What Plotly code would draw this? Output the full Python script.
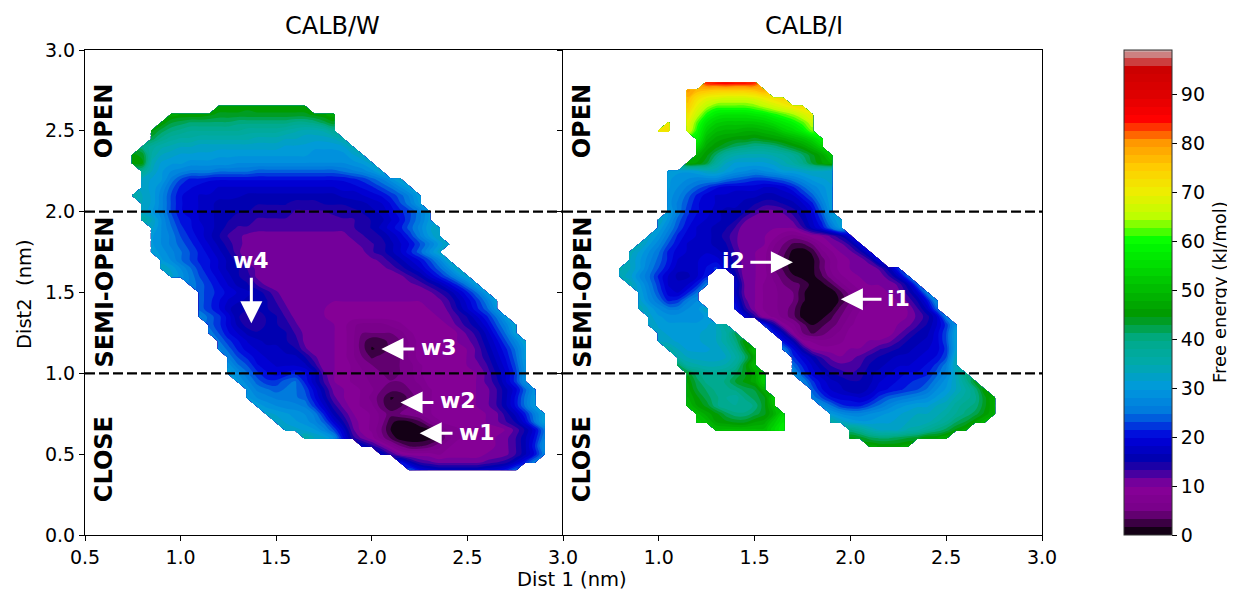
import plotly.graph_objects as go

_ = None
X = [round(0.70 + 0.05*i, 2) for i in range(47)]
Y = [round(0.40 + 0.05*i, 2) for i in range(49)]

# free energy per row, from y=0.40 upward: (x of first cell, values at 0.05 nm spacing)
ROWS_W = [
(2.2,[24,20,18,17,17,17,17,17,18,19,21,25]),
(2.15,[20,16,13,12,11,11,11,11,11,12,13,14,17,21,26]),
(2.05,[17,13,10,9,9,9,8,9,9,9,9,10,10,11,13,16,20,26]),
(1.95,[17,14,11,8,5,3,3,4,6,8,9,9,9,9,10,11,13,16,21,28]),
(1.65,[36,33,32,28,20,14,11,9,6,3,0.5,0.5,0.5,1,3,6,8,9,9,9,10,11,13,16,20,26]),
(1.55,[33,32,31,30,27,23,18,12,9,8,5,1.5,0.5,0.5,0.5,1.5,4,7,8,9,9,9,9,10,12,15,19,25]),
(1.5,[33,31,30,29,27,24,19,15,11,9,8,6,2,1,1.5,3,6,8,9,9,9,9,10,11,13,15,19,25,31]),
(1.45,[32,31,30,29,28,26,21,16,13,10,9,8,6,4,5,6,7,8,9,9,9,9,9,10,11,14,17,21,26,31]),
(1.4,[31,29,28,27,27,26,22,18,14,11,9,8,7,4,2,3,5,7,8,9,9,9,9,10,11,13,16,20,25,30]),
(1.35,[30,28,27,26,26,25,24,20,16,12,10,9,8,6,4,1.5,2,4,6,8,9,9,9,9,10,11,13,16,20,25,30]),
(1.35,[29,26,25,24,25,25,23,19,15,11,10,9,8,7,5,4,4,5,6,8,9,9,9,9,10,11,13,16,19,24,29]),
(1.3,[30,27,24,22,22,24,25,21,17,13,10,9,8,8,6,5,5,5,6,7,9,9,9,9,9,10,12,14,18,22,28]),
(1.25,[31,28,25,22,20,19,20,21,20,17,12,10,9,8,7,5.5,5,4.5,5,6,8,9,9,9,9,9,10,12,15,18,22,28]),
(1.25,[29,25,23,20,19,18,18,18,17,14,10,10,9,8,6,5,4.5,4.5,5,6,8,9,9,9,9,10,11,13,16,19,23,29]),
(1.25,[26,23,21,19,18,17,17,17,15,12,10,10,9,7,5,3,4,4,5,7,9,9,9,9,9,10,12,14,17,20,24,30]),
(1.2,[27,24,21,19,18,17,17,16,15,12,10,10,10,9,7,4,1.5,2,4,5,7,9,9,9,9,9,10,12,15,18,21,25,30]),
(1.2,[25,22,20,18,17,16,16,15,14,11,10,10,10,9,7,4,2,2.5,4,5,7,9,9,9,9,10,11,13,16,19,23,27,32]),
(1.15,[26,23,20,18,16,15,15,16,15,13,11,10,10,10,9,7,5,5,5,5,6,8,9,9,9,9,10,12,14,17,21,25,31]),
(1.15,[24,22,19,16,14,14,15,15,14,12,10,10,10,10,9,7,6,6,6,7,8,9,9,9,9,10,12,14,16,19,23,27,32]),
(1.1,[27,24,22,19,15,14,14,15,15,13,11,10,10,10,9,9,9,9,9,9,9,9,9,9,9,10,11,13,15,18,21,25,30]),
(1.1,[24,22,20,17,15,15,15,15,14,12,10,10,10,10,9,9,9,9,9,9,9,9,9,9,10,10,12,15,18,21,24,29]),
(1.1,[24,22,20,18,17,16,16,15,13,11,10,10,10,10,10,10,10,10,10,10,10,10,10,10,10,11,13,16,19,22,26,31]),
(1.1,[24,22,21,19,18,17,16,14,12,10,10,10,10,10,10,10,10,10,10,10,10,10,10,10,11,13,15,18,21,25,30]),
(1.05,[26,24,22,20,18,16,15,13,11,10,10,10,10,10,10,10,10,10,10,10,10,10,10,11,12,14,16,19,22,26,31]),
(0.95,[32,29,26,23,21,19,17,15,14,11,10,10,10,10,10,10,10,10,10,10,10,10,10,10,11,13,15,18,21,24,28,32]),
(0.9,[33,31,28,25,22,20,18,16,15,13,11,10,10,10,10,10,10,10,10,10,10,10,10,11,12,14,16,18,21,24,28,33]),
(0.9,[30,28,25,23,21,20,18,16,14,11,10,10,10,10,10,10,10,10,10,10,10,10,11,12,14,16,18,20,23,27,32]),
(0.85,[31,29,27,25,23,21,19,17,15,12,10,10,10,10,10,10,10,10,10,10,10,11,11,13,14,16,18,21,24,28,32]),
(0.85,[30,28,26,24,22,20,18,16,14,12,11,10,10,10,10,10,10,10,10,10,10,11,12,13,14,16,18,20,23,26,30,33]),
(0.85,[30,28,26,23,21,19,17,15,13,12,11,11,11,11,11,11,11,11,11,11,11,12,13,14,15,17,19,22,26,30,33]),
(0.85,[32,28,25,22,20,19,17,16,14,13,13,12,12,12,12,12,12,12,12,12,12,13,14,15,17,19,21,24,27,31,33]),
(0.8,[36,33,28,24,21,20,18,17,16,15,14,14,13,13,13,13,13,13,12,12,12,13,13,14,15,16,18,20,23,26,30]),
(0.8,[33,30,27,23,20,19,18,17,16,15,15,15,14,14,14,14,13,13,13,13,14,14,14,15,16,17,19,21,23,26,30]),
(0.8,[33,31,27,23,20,19,18,17,16,16,15,15,15,15,15,15,14,14,14,15,15,15,16,16,17,18,20,23,26,30]),
(0.75,[36,33,31,27,23,20,19,18,18,17,17,17,16,16,16,16,16,16,16,16,16,16,17,17,18,19,20,22,24,27,31]),
(0.8,[32,31,28,24,21,20,19,19,18,18,18,18,18,18,18,18,18,18,18,18,18,19,19,20,21,23,25,28,31]),
(0.8,[33,31,30,26,23,21,21,20,20,20,20,20,20,20,20,20,20,20,20,20,20,20,21,22,24,26,29,32]),
(0.8,[38,33,30,28,27,26,26,26,25,25,25,25,24,24,24,24,24,24,24,24,24,25,26,27,29,32]),
(0.75,[45,45,34,31,30,30,29,29,29,29,29,28,28,28,28,28,28,28,28,28,28,28,28,29,30,32]),
(0.75,[45,44,36,33,32,31,31,31,31,30,30,30,30,30,30,30,30,30,30,29,29,29,29,31,33]),
(0.8,[40,37,35,34,33,33,32,32,32,32,32,32,32,32,32,31,31,31,30,30,30,31,34]),
(0.85,[42,39,37,36,36,35,35,35,35,35,35,34,34,34,33,33,32,32,32,33,35]),
(0.85,[45,42,40,39,38,38,38,38,38,38,37,37,37,37,36,35,34,34,35,38]),
(0.9,[46,43,42,41,41,41,41,41,40,40,40,40,40,40,39,39,40,42,44]),
(0.95,[47,46,46,46,45,44,44,44,44,44,44,44,44,44,44,45,46,47]),
(1.2,[46,46,46,45,46,46,46,46,46,46]),
(0.7,[]),
(0.7,[]),
(0.7,[]),
]

ROWS_I = [
(0.7,[]),
(0.7,[]),
(0.7,[]),
(2.1,[47,46,46,46,47]),
(2.0,[45,44,42,41,41,42,43,44,46,46,48]),
(1.3,[50,50,50,50,50,50,54,58,_,_,_,_,_,_,40,38,35,33,33,33,35,36,38,40,42,45,47]),
(1.2,[52,50,46,45,44,44,46,47,52,56,_,_,_,_,36,33,31,30,30,31,31,32,33,33,34,36,38,41,43,46,49]),
(1.2,[50,47,45,42,40,40,42,44,48,54,_,_,_,_,30,28,27,27,28,29,30,31,32,33,33,34,36,38,40,42,45,48]),
(1.15,[50,46,44,40,38,38,38,40,44,50,_,_,_,_,28,25,22,21,21,23,25,27,29,30,31,31,33,34,37,39,40,44,48]),
(1.15,[48,45,42,40,38,37,40,42,44,52,_,_,_,26,23,20,19,19,18,19,22,24,25,26,27,28,30,32,35,37,39,44,48]),
(1.15,[47,43,41,39,39,40,42,43,48,_,_,_,_,24,20,18,17,15,15,17,19,20,21,22,23,25,28,30,33,36,40,46]),
(1.15,[46,42,39,38,40,43,45,47,53,_,_,_,27,22,19,17,16,15,15,16,18,19,20,21,22,23,26,29,33,38,44]),
(1.15,[44,40,38,38,39,41,44,47,52,_,_,29,23,19,17,15,14,13,14,16,17,18,19,20,20,21,24,27,33,40]),
(1.1,[42,36,35,34,34,35,38,44,50,_,_,_,25,21,18,15,13,12,12,13,15,16,17,18,18,19,20,22,26,34]),
(1.1,[35,33,32,32,32,33,36,41,47,_,_,_,22,19,16,13,11,10,11,12,14,15,16,17,17,18,19,20,23,33]),
(1.05,[36,33,31,31,31,32,34,38,44,50,_,_,26,20,15,10,9,9,9,10,10,11,13,14,15,16,17,18,19,22,31]),
(1.0,[33,32,31,31,31,32,33,36,40,46,_,_,_,20,16,9,8,7,7,8,9,9,10,10,11,13,15,16,17,19,23,31]),
(1.0,[32,31,31,31,31,32,33,36,42,_,_,_,21,16,9,5,3,4,6,7,9,9,9,9,9,11,13,15,16,19,23,31]),
(0.95,[33,31,30,30,30,30,31,33,38,_,_,_,22,15,9,7,4,1.5,3,4,6,8,9,9,9,9,10,11,13,15,18,22,29]),
(0.95,[32,30,29,29,29,29,30,_,_,_,19,14,9,8,6,4,1,0.5,1,3,5,7,9,9,9,9,9,10,12,14,18,26]),
(0.9,[34,31,28,26,26,28,29,33,_,_,21,14,10,8,7,6,4,1,0.5,0.5,1,4,6,8,9,9,9,9,10,13,17,24]),
(0.9,[32,28,25,21,22,26,28,_,_,_,19,12,10,8,7,6,5,2,0.5,0.5,0.5,2,5,7,8,9,9,10,12,15,20,28]),
(0.9,[31,27,23,19,18,21,25,_,_,_,17,11,10,8,7,6,5,2,0.5,0.5,0.5,3,6,8,9,9,10,11,14,18,26]),
(0.85,[34,30,26,22,18,17,18,21,26,_,_,18,11,10,8,7,5,4,3,1,1,3,6,8,9,10,10,10,12,16,24]),
(0.8,[34,32,28,25,21,18,16,16,18,21,_,_,16,10,10,9,6,4,2,1,1,3,6,8,9,10,10,10,13,17,24]),
(0.8,[35,33,30,26,23,20,17,17,18,20,22,18,14,10,10,9,5,3,0.5,0.5,1,4,7,9,10,10,10,12,16,22]),
(0.85,[33,30,27,24,21,18,18,18,19,19,17,14,10,10,9,5,3,0.5,0.5,1,4,7,9,10,10,13,19]),
(0.85,[34,31,28,25,21,19,18,18,18,17,16,13,10,10,9,6,4,1,0.5,2,6,8,10,11,14,19]),
(0.9,[34,30,27,23,20,18,17,17,16,15,12,10,10,10,7,5,3,3,5,8,10,11,14,19]),
(0.95,[32,29,25,21,19,18,17,16,14,12,10,10,10,9,7,6,7,9,10,12,15,19]),
(1.0,[31,27,23,20,18,17,16,15,13,10,10,10,10,10,10,13,17,20,25,30]),
(1.0,[33,29,24,21,19,18,17,16,15,12,10,10,10,10,12,15,18,22,28,32]),
(1.05,[30,26,22,20,19,17,16,16,15,13,11,11,12,14,16,19,24,30]),
(1.05,[29,26,23,20,19,18,17,17,16,15,14,14,15,16,18,21,26,31]),
(1.05,[29,27,24,21,19,18,18,17,17,17,16,16,17,18,21,24,28,31]),
(1.05,[30,28,26,24,22,20,19,19,19,19,18,18,19,21,24,27,29,31]),
(1.05,[30,29,28,27,27,27,25,24,23,22,22,23,24,26,28,30,31,32]),
(1.05,[30,30,30,31,33,33,31,29,28,27,28,29,31,31,32,33,33,32]),
(1.15,[47,46,43,37,33,31,31,31,31,32,34,36,39,43,46,48]),
(1.2,[48,45,41,37,35,34,34,34,35,36,38,41,44,47,52]),
(1.2,[54,47,45,43,41,40,39,39,40,42,44,46,49,53]),
(1.2,[58,50,47,46,45,45,44,45,46,47,49,51,54,58]),
(1.0,[71,72,_,68,60,53,50,49,49,48,48,49,50,53,55,58,63]),
(1.05,[71,_,70,62,56,53,52,52,52,52,53,55,57,59,62,66]),
(1.15,[72,66,60,57,56,56,56,57,58,60,62,64,67,70]),
(1.15,[75,69,65,62,62,62,62,63,65,67,69,71,73]),
(1.15,[77,72,69,68,67,67,67,68,70,72,74]),
(1.15,[80,77,76,75,75,75,75,76,78]),
(1.25,[85,86,87,86,86,85]),
]

COLORBAR_TICKS = [0,10,20,30,40,50,60,70,80,90]
AXIS_TICKS = [0.5,1.0,1.5,2.0,2.5,3.0]
Y_TICKS = [0.0,0.5,1.0,1.5,2.0,2.5,3.0]
BOUNDS = [1.0,2.0]
TOP = 99
stops = [(0,'0,0,0'),(.05,'119,0,136'),(.10,'136,0,153'),(.15,'0,0,170'),(.20,'0,0,221'),(.25,'0,119,221'),
         (.30,'0,153,221'),(.35,'0,170,170'),(.40,'0,170,136'),(.45,'0,153,0'),(.50,'0,187,0'),(.55,'0,221,0'),
         (.60,'0,255,0'),(.65,'187,255,0'),(.70,'238,238,0'),(.75,'255,204,0'),(.80,'255,153,0'),(.85,'255,0,0'),
         (.90,'221,0,0'),(.95,'204,0,0'),(TOP/100,'204,163,163')]
cs = [[p*100/TOP, f'rgb({c})'] for p, c in stops]
FONT = 'DejaVu Sans'

def grid(rows):
    z = []
    for x0, vals in rows:
        lead = round((x0 - X[0]) / 0.05)
        row = [None]*lead + list(vals)
        z.append(row + [None]*(len(X) - len(row)))
    return z

fig = go.Figure()
common = dict(x=X, y=Y, colorscale=cs, zmin=0, zmax=TOP, connectgaps=False, line_width=0,
              contours=dict(coloring='fill', showlines=False, start=0, end=99, size=1.65), hoverinfo='skip')
fig.add_trace(go.Contour(z=grid(ROWS_W), xaxis='x', yaxis='y', showscale=True,
    colorbar=dict(x=1.0857, xanchor='left', xpad=0, y=0, yanchor='bottom', ypad=0, thickness=48, thicknessmode='pixels',
                  len=485, lenmode='pixels', tickvals=COLORBAR_TICKS, ticks='outside', ticklen=5, tickcolor='black',
                  tickfont=dict(size=19, family=FONT, color='black'), outlinecolor='#333', outlinewidth=1),
    **common))
fig.add_trace(go.Contour(z=grid(ROWS_I), xaxis='x2', yaxis='y2', showscale=False, **common))

axis = dict(range=[0.5,3.0], showgrid=False, zeroline=False, showline=True, mirror=True, linecolor='black', linewidth=1,
            ticks='outside', ticklen=5, tickcolor='black', tickfont=dict(size=19, family=FONT, color='black'))
yaxis = dict(axis, range=[0,3.0], tickvals=Y_TICKS, tickformat='.1f')
fig.update_layout(
    width=1227, height=584, margin=dict(l=77, r=193, t=42, b=57, autoexpand=False),
    paper_bgcolor='white', plot_bgcolor='white', showlegend=False,
    xaxis=dict(axis, domain=[0,0.4995], tickvals=AXIS_TICKS, ticktext=['0.5','1.0','1.5','2.0','2.5','3.0'], anchor='y'),
    xaxis2=dict(axis, domain=[0.4995,1], tickvals=AXIS_TICKS, ticktext=['','1.0','1.5','2.0','2.5','3.0'], anchor='y2'),
    yaxis=dict(yaxis, anchor='x', mirror=False),
    yaxis2=dict(yaxis, anchor='x2', ticktext=['']*7),
)
for xr, yr in (('x','y'),('x2','y2')):
    for b in BOUNDS:
        fig.add_shape(type='line', xref=xr, yref=yr, x0=0.5, x1=3.0, y0=b, y1=b,
                      line=dict(color='black', width=2.2, dash='10px,4px'), layer='above')

def text(x, y, s, xr='x', yr='y', size=22, color='white', angle=0):
    fig.add_annotation(x=x, y=y, xref=xr, yref=yr, text=f'<b>{s}</b>', showarrow=False,
                       textangle=angle, font=dict(size=size, family=FONT, color=color))

def arrow(x0, y0, x1, y1, xr='x', yr='y'):
    fig.add_annotation(x=x1, y=y1, ax=x0, ay=y0, xref=xr, yref=yr, axref=xr, ayref=yr, text='', showarrow=True,
                       arrowhead=2, arrowsize=1.47, arrowwidth=3, arrowcolor='white')

for xr, yr in (('x','y'),('x2','y2')):
    text(0.6, 2.56, 'OPEN', xr, yr, 24, 'black', -90)
    text(0.6, 1.5, 'SEMI-OPEN', xr, yr, 24, 'black', -90)
    text(0.6, 0.47, 'CLOSE', xr, yr, 24, 'black', -90)

text(2.55, 0.635, 'w1'); arrow(2.43, 0.63, 2.25, 0.63)
text(2.45, 0.83, 'w2'); arrow(2.33, 0.82, 2.15, 0.82)
text(2.35, 1.16, 'w3'); arrow(2.23, 1.15, 2.05, 1.15)
text(1.37, 1.70, 'w4'); arrow(1.37, 1.6, 1.37, 1.31)
text(2.25, 1.46, 'i1', 'x2', 'y2'); arrow(2.17, 1.458, 1.95, 1.458, 'x2', 'y2')
text(1.39, 1.70, 'i2', 'x2', 'y2'); arrow(1.47, 1.687, 1.70, 1.687, 'x2', 'y2')

def page_label(px, py, s, size, angle=0):
    fig.add_annotation(x=(px-85)/957, y=(535-py)/485, xref='paper', yref='paper', text=s, showarrow=False,
                       xanchor='center', yanchor='middle', textangle=angle, font=dict(size=size, family=FONT, color='black'))
page_label(332, 26, 'CALB/W', 24)
page_label(804, 26, 'CALB/I', 24)
page_label(572, 579, 'Dist 1 (nm)', 19.5)
page_label(24, 294, 'Dist2  (nm)', 19.5, -90)
page_label(1219, 292, 'Free energy (kJ/mol)', 18, -90)

fig.write_html('out.html')
